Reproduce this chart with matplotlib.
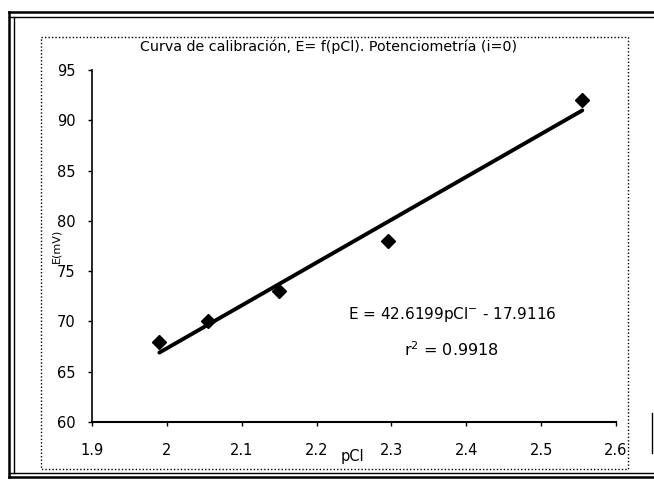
import matplotlib
matplotlib.use('Agg')
import matplotlib.pyplot as plt
from matplotlib.lines import Line2D
import numpy as np

# calibration data
pcl = [1.99, 2.055, 2.15, 2.295, 2.555]
e_mv = [68, 70, 73, 78, 92]
# trendline coefficients printed on the chart
slope = 42.6199
intercept = -17.9116
r2 = 0.9918
xticks = [1.9, 2.0, 2.1, 2.2, 2.3, 2.4, 2.5, 2.6]
xticklabels = ['1.9', '2', '2.1', '2.2', '2.3', '2.4', '2.5', '2.6']
yticks = [60, 65, 70, 75, 80, 85, 90, 95]

W, H = 654, 480
fig = plt.figure(figsize=(W/100, H/100), dpi=100)
fig.patch.set_facecolor('white')

#helper: pixel coords -> figure fraction
def fx(px):
    return px/W
def fy(py):
    return 1 - py/H

#outer double border of the scanned page
for y in [12, 17]:
    fig.add_artist(Line2D([fx(9), 1], [fy(y), fy(y)], color='black', lw=1.8 if y == 12 else 1.0))
for y in [473, 477]:
    fig.add_artist(Line2D([fx(9), 1], [fy(y), fy(y)], color='black', lw=1.8 if y == 477 else 1.0))
fig.add_artist(Line2D([fx(9), fx(9)], [fy(12), fy(477)], color='black', lw=1.8))
fig.add_artist(Line2D([fx(14), fx(14)], [fy(17), fy(473)], color='black', lw=1.0))
fig.add_artist(Line2D([fx(652), fx(652)], [fy(413), fy(453)], color='black', lw=1.0))

#inner dotted chart frame
fig.add_artist(Line2D([fx(41), fx(628), fx(628), fx(41), fx(41)],
                      [fy(37), fy(37), fy(469), fy(469), fy(37)],
                      color='black', lw=1.0, ls=(0, (1, 1.5))))

ax = fig.add_axes([fx(92), fy(422), fx(616) - fx(92), fy(70) - fy(422)])
ax.set_facecolor('white')

xl = np.array([min(pcl), max(pcl)])
ax.plot(xl, slope*xl + intercept, color='black', lw=2.8, solid_capstyle='round')
ax.plot(pcl, e_mv, ls='none', marker='D', ms=7, color='black')

ax.set_xlim(1.9, 2.6)
ax.set_ylim(60, 95)
ax.set_xticks(xticks)
ax.set_xticklabels(xticklabels)
ax.set_yticks(yticks)
for s in ['top', 'right']:
    ax.spines[s].set_visible(False)
ax.spines['left'].set_linewidth(1.2)
ax.spines['bottom'].set_linewidth(1.5)
ax.tick_params(axis='both', direction='out', length=3, width=1, labelsize=10.5)
ax.tick_params(axis='y', pad=9)
ax.tick_params(axis='x', pad=12)

fig.text(fx(329), fy(47), 'Curva de calibración, E= f(pCl). Potenciometría (i=0)',
         ha='center', va='center', fontsize=10.3)
fig.text(fx(56), fy(246), 'E(mV)', rotation=90, ha='center', va='center', fontsize=8)
fig.text(fx(352), fy(456), 'pCl', ha='center', va='center', fontsize=10.5)

fig.text(fx(452), fy(314), 'E = %.4fpCl$^{-}$ - %.4f' % (slope, -intercept),
         ha='center', va='center', fontsize=11)
fig.text(fx(451), fy(350), 'r$^2$ = %.4f' % r2, ha='center', va='center', fontsize=11.5)

fig.savefig('out.png', dpi=100)
